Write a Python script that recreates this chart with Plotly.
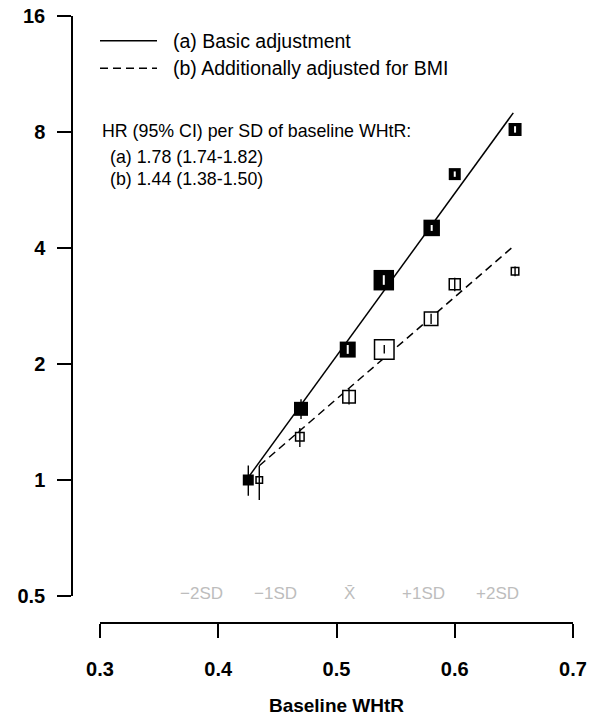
import math
import plotly.graph_objects as go

# (a) Basic adjustment: group mean WHtR, hazard ratio and 95% CI
whtr_a = [0.4254, 0.470, 0.5095, 0.540, 0.5805, 0.600, 0.651]
hr_a = [1.00, 1.53, 2.18, 3.30, 4.51, 6.22, 8.12]
lo_a = [0.91, 1.44, 2.125, 3.21, 4.43, 6.12, 7.97]
hi_a = [1.09, 1.62, 2.24, 3.40, 4.59, 6.32, 8.28]

# (b) Additionally adjusted for BMI
whtr_b = [0.4347, 0.469, 0.5106, 0.5404, 0.580, 0.600, 0.651]
hr_b = [1.00, 1.295, 1.645, 2.18, 2.62, 3.22, 3.48]
lo_b = [0.887, 1.218, 1.57, 2.13, 2.54, 3.09, 3.38]
hi_b = [1.087, 1.364, 1.725, 2.24, 2.70, 3.35, 3.58]

# Fitted log-linear trends (per SD of baseline WHtR)
fit_whtr_a = [0.4254, 0.6495]
fit_hr_a = [1.016, 8.97]
fit_whtr_b = [0.4347, 0.648]
fit_hr_b = [1.089, 4.00]

# Box sizes (px), proportional to the precision of each estimate
box_a = [11, 14, 16, 20.5, 16.5, 12, 13]
box_b = [6.5, 8.5, 12.5, 19.5, 13.5, 11, 7.5]

y_ticks = [0.5, 1, 2, 4, 8, 16]
x_ticks = [0.3, 0.4, 0.5, 0.6, 0.7]

sd_steps = [-2, -1, 0, 1, 2]
sd_labels = ["\u22122SD", "\u22121SD", "X\u0304", "+1SD", "+2SD"]
whtr_mean = 0.511
whtr_sd = 0.0625

legend_labels = ["(a) Basic adjustment", "(b) Additionally adjusted for BMI"]
hr_header = "HR (95% CI) per SD of baseline WHtR:"
hr_lines = ["(a) 1.78 (1.74-1.82)", "(b) 1.44 (1.38-1.50)"]

# ---- layout geometry ----
W, H = 602, 718
ML, MR, MT, MB = 72, 29, 16, 95
PW, PH = W - ML - MR, H - MT - MB
X_DOM0 = 28 / PW
Y_DOM0 = 27 / PH
PX_PER_DOUBLING = PH * (1 - Y_DOM0) / math.log2(y_ticks[-1] / y_ticks[0])

FONT = "Liberation Sans, Arial, Helvetica, sans-serif"
DASH = "8px,5px"


def px_x(px):
    return (px - ML) / PW


def px_y(py):
    return (H - MB - py) / PH


def ci_segments(xs, lo, hi, keep=None):
    sx, sy = [], []
    for i, (x, l, h) in enumerate(zip(xs, lo, hi)):
        if keep is not None and not keep[i]:
            continue
        sx += [x, x, None]
        sy += [l, h, None]
    return sx, sy


fig = go.Figure()

# trend lines
fig.add_trace(go.Scatter(x=fit_whtr_a, y=fit_hr_a, mode="lines",
                         line=dict(color="black", width=1.5),
                         showlegend=False, hoverinfo="skip"))
fig.add_trace(go.Scatter(x=fit_whtr_b, y=fit_hr_b, mode="lines",
                         line=dict(color="black", width=1.5, dash=DASH),
                         showlegend=False, hoverinfo="skip"))

# (a) CIs behind the solid boxes
cx, cy = ci_segments(whtr_a, lo_a, hi_a)
fig.add_trace(go.Scatter(x=cx, y=cy, mode="lines",
                         line=dict(color="black", width=1.4),
                         showlegend=False, hoverinfo="skip"))

# (a) solid boxes
fig.add_trace(go.Scatter(x=whtr_a, y=hr_a, mode="markers",
                         marker=dict(symbol="square", size=box_a, color="black",
                                     opacity=1, line=dict(width=0)),
                         name=legend_labels[0], showlegend=False))

# (a) CI drawn in white where it lies inside its box
inside_a = [math.log2(h / l) * PX_PER_DOUBLING < s - 2
            for l, h, s in zip(lo_a, hi_a, box_a)]
cx, cy = ci_segments(whtr_a, lo_a, hi_a, inside_a)
fig.add_trace(go.Scatter(x=cx, y=cy, mode="lines",
                         line=dict(color="white", width=2),
                         showlegend=False, hoverinfo="skip"))

# (b) open boxes
fig.add_trace(go.Scatter(x=whtr_b, y=hr_b, mode="markers",
                         marker=dict(symbol="square", size=box_b, color="white",
                                     opacity=1, line=dict(width=1.5, color="black")),
                         name=legend_labels[1], showlegend=False))

# (b) CIs on top of the open boxes
cx, cy = ci_segments(whtr_b, lo_b, hi_b)
fig.add_trace(go.Scatter(x=cx, y=cy, mode="lines",
                         line=dict(color="black", width=1.4),
                         showlegend=False, hoverinfo="skip"))

# ---- key ----
shapes = []
for py, dash in [(40.7, "solid"), (68.3, DASH)]:
    shapes.append(dict(type="line", xref="paper", yref="paper",
                       x0=px_x(100), x1=px_x(157), y0=px_y(py), y1=px_y(py),
                       line=dict(color="black", width=1.5, dash=dash)))

annotations = []
for label, py in zip(legend_labels, [40.7, 68.3]):
    annotations.append(dict(text=label, xref="paper", yref="paper",
                            x=px_x(171), y=px_y(py), xanchor="left", yanchor="middle",
                            showarrow=False,
                            font=dict(family=FONT, size=19.5, color="black")))

annotations.append(dict(text=hr_header, xref="paper", yref="paper",
                        x=px_x(100), y=px_y(131), xanchor="left", yanchor="middle",
                        showarrow=False, font=dict(family=FONT, size=17.8, color="black")))
for line, py in zip(hr_lines, [156.7, 179]):
    annotations.append(dict(text=line, xref="paper", yref="paper",
                            x=px_x(107.5), y=px_y(py), xanchor="left", yanchor="middle",
                            showarrow=False, font=dict(family=FONT, size=17.8, color="black")))

# SD markers along the WHtR scale
for k, lab in zip(sd_steps, sd_labels):
    annotations.append(dict(text=lab, xref="x", yref="paper",
                            x=whtr_mean + k * whtr_sd, y=px_y(593),
                            xanchor="center", yanchor="middle", showarrow=False,
                            font=dict(family=FONT, size=17, color="#bdbdbd")))

fig.update_layout(
    width=W, height=H,
    margin=dict(l=ML, r=MR, t=MT, b=MB, pad=0, autoexpand=False),
    paper_bgcolor="white", plot_bgcolor="white",
    showlegend=False,
    font=dict(family=FONT, color="black"),
    shapes=shapes,
    annotations=annotations,
    xaxis=dict(
        range=[0.3, 0.7], domain=[X_DOM0, 1], anchor="free", position=0,
        automargin=False,
        showline=True, linecolor="black", linewidth=1.5, mirror=False,
        ticks="outside", ticklen=14, tickwidth=1.5, tickcolor="black",
        tickvals=x_ticks, ticktext=[f"{v:.1f}" for v in x_ticks],
        tickfont=dict(family=FONT, size=20, color="black", weight="bold"),
        ticklabelstandoff=14,
        showgrid=False, zeroline=False,
        title=dict(text="Baseline WHtR", standoff=19,
                   font=dict(family=FONT, size=19, color="black", weight="bold")),
    ),
    yaxis=dict(
        type="log", range=[math.log10(y_ticks[0]), math.log10(y_ticks[-1])],
        domain=[Y_DOM0, 1], anchor="free", position=0,
        automargin=False,
        showline=True, linecolor="black", linewidth=1.5,
        ticks="outside", ticklen=14, tickwidth=1.5, tickcolor="black",
        tickvals=y_ticks, ticktext=[f"{v:g}" for v in y_ticks],
        tickfont=dict(family=FONT, size=20, color="black", weight="bold"),
        ticklabelstandoff=8,
        showgrid=False, zeroline=False,
    ),
)

fig.write_html("out.html")
